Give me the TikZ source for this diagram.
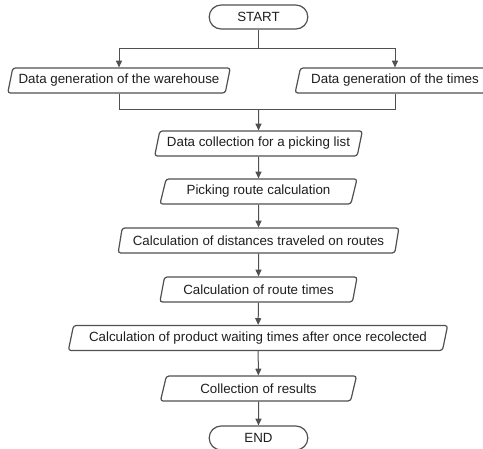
\documentclass[tikz,border=0pt]{standalone}
\usepackage{fontspec}
\setmainfont{Liberation Sans}
\usetikzlibrary{shapes.geometric,arrows.meta}
\definecolor{fc_line}{RGB}{80,80,80}
\definecolor{fc_text}{RGB}{30,30,30}
\tikzstyle{term}=[rectangle,rounded corners=9pt,draw=fc_line,line width=0.9pt,
  minimum width=74pt,minimum height=18pt,inner sep=0pt,text=fc_text]
\tikzstyle{io}=[trapezium,trapezium left angle=69,trapezium right angle=111,
  trapezium stretches=true,rounded corners=2pt,draw=fc_line,line width=0.9pt,
  minimum height=18.75pt,inner sep=0pt,text=fc_text]
\tikzstyle{flow}=[draw=fc_line,line width=0.75pt,-{Triangle[length=5pt,width=4.5pt]}]
\tikzstyle{link}=[draw=fc_line,line width=0.75pt]
\tikzstyle{none}=[inner sep=0pt]
\begin{document}
\begin{tikzpicture}[x=0.75pt, y=-0.75pt, every node/.style={font=\fontsize{10}{12}\selectfont}]
  \clip (0, 0) rectangle (483, 449);
  \node [style=term] (0) at (258.5, 17) {START};
  \node [style=io, minimum width=167pt] (1) at (119, 80.5) {Data generation of the warehouse};
  \node [style=io, minimum width=150pt] (2) at (395, 80.5) {Data generation of the times};
  \node [style=io, minimum width=156pt] (3) at (258.5, 143.5) {Data collection for a picking list};
  \node [style=io, minimum width=148pt] (4) at (258.5, 191.5) {Picking route calculation};
  \node [style=io, minimum width=211pt] (5) at (258.5, 240.5) {Calculation of distances traveled on routes};
  \node [style=io, minimum width=148pt] (6) at (258.5, 289.5) {Calculation of route times};
  \node [style=io, minimum width=285pt] (7) at (258, 338) {Calculation of product waiting times after once recolected};
  \node [style=io, minimum width=148pt] (8) at (258.5, 388.5) {Collection of results};
  \node [style=term] (9) at (258.5, 438) {END};
  \node [style=none] (10) at (258.5, 49) {};
  \node [style=none] (11) at (258.5, 110) {};
  % split after start
  \draw [style=link] (0) to (10.center);
  \draw [style=flow] (10.center) -| (1);
  \draw [style=flow] (10.center) -| (2);
  % merge before collection
  \draw [style=link] (1) |- (11.center);
  \draw [style=link] (2) |- (11.center);
  \draw [style=flow] (11.center) to (3);
  \draw [style=flow] (3) to (4);
  \draw [style=flow] (4) to (5);
  \draw [style=flow] (5) to (6);
  \draw [style=flow] (6) to (7);
  \draw [style=flow] (7) to (8);
  \draw [style=flow] (8) to (9);
\end{tikzpicture}
\end{document}
